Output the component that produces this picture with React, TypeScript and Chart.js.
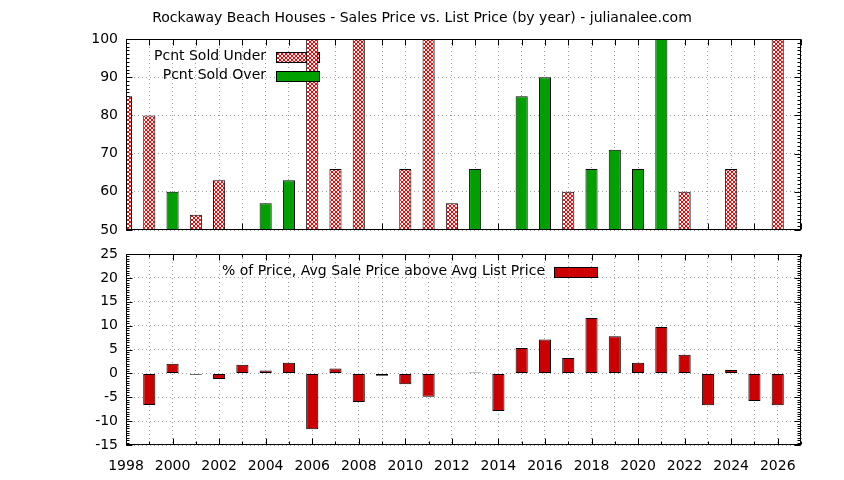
import React, { useEffect, useRef } from 'react';
import { Chart, registerables } from 'chart.js';

Chart.register(...registerables);

// ---------- data ----------
const TITLE = 'Rockaway Beach Houses - Sales Price vs. List Price (by year) - julianalee.com';
const years = [
  1998, 1999, 2000, 2001, 2002, 2003, 2004, 2005, 2006, 2007,
  2008, 2009, 2010, 2011, 2012, 2013, 2014, 2015, 2016, 2017,
  2018, 2019, 2020, 2021, 2022, 2023, 2024, 2025, 2026,
];
const pctSoldUnder = [
  85, 80, null, 54, 63, null, null, null, 100, 66,
  100, null, 66, 100, 57, null, null, null, null, 60,
  null, null, null, null, 60, null, 66, null, 100,
];
const pctSoldOver = [
  null, null, 60, null, null, null, 57, 63, null, null,
  null, null, null, null, null, 66, null, 85, 90, null,
  66, 71, 66, 100, null, null, null, null, null,
];
const pctSaleAboveList = [
  null, -6.6, 2.0, -0.3, -1.2, 1.8, 0.6, 2.2, -11.7, 1.0,
  -6.0, -0.5, -2.3, -4.9, -0.2, 0.2, -7.9, 5.3, 7.1, 3.2,
  11.6, 7.8, 2.2, 9.7, 3.9, -6.7, 0.7, -5.8, -6.7,
];
const LABEL_UNDER = 'Pcnt Sold Under';
const LABEL_OVER = 'Pcnt Sold Over';
const LABEL_PRICE = '% of Price, Avg Sale Price above Avg List Price';
const X_MIN = 1998;
const X_MAX = 2027;
const TOP_Y = { min: 50, max: 100, step: 10, minor: 1 };
const BOT_Y = { min: -15, max: 25, step: 5, minor: 0.5 };

// ---------- styles ----------
const FONT = 'DejaVu Sans';
const GREEN = '#00a000';
const DARK_RED = '#cc0000';
const HATCH_RED = '#ff0000';
const GRID = '#a0a0a0';

function makeHatch(): CanvasPattern | string {
  const c = document.createElement('canvas');
  c.width = 4;
  c.height = 4;
  const g = c.getContext('2d');
  if (!g) return HATCH_RED;
  g.fillStyle = '#ffffff';
  g.fillRect(0, 0, 4, 4);
  g.fillStyle = HATCH_RED;
  for (let i = 0; i < 4; i++) {
    g.fillRect(i, i, 1, 1);
    g.fillRect(3 - i, i, 1, 1);
  }
  return g.createPattern(c, 'repeat') || HATCH_RED;
}

const toPoints = (vals: (number | null)[]) => years.map((yr, i) => ({ x: yr, y: vals[i] }));

// frame + inward ticks (gnuplot look)
const gnuFrame = {
  id: 'gnuFrame',
  beforeDatasetsDraw(chart: any, _a: any, opts: any) {
    const { ctx, chartArea: a, scales } = chart;
    const xs = scales.x;
    const ys = scales.y;
    ctx.save();
    ctx.strokeStyle = '#000';
    ctx.lineWidth = 1;
    const line = (x1: number, y1: number, x2: number, y2: number) => {
      ctx.beginPath();
      ctx.moveTo(x1, y1);
      ctx.lineTo(x2, y2);
      ctx.stroke();
    };
    const L = Math.round(a.left) + 0.5;
    const R = Math.round(a.right) - 0.5;
    const T = Math.round(a.top) + 0.5;
    const B = Math.round(a.bottom) - 0.5;
    for (let v = ys.min; v <= ys.max + 1e-9; v += opts.yMinor) {
      const py = Math.round(ys.getPixelForValue(v)) + 0.5;
      line(L, py, L + opts.minorLen, py);
      line(R, py, R - opts.minorLen, py);
    }
    for (const t of ys.ticks) {
      const py = Math.round(ys.getPixelForValue(t.value)) + 0.5;
      line(L, py, L + opts.majorLen, py);
      line(R, py, R - opts.majorLen, py);
    }
    for (const t of xs.ticks) {
      const px = Math.round(xs.getPixelForValue(t.value)) + 0.5;
      const len = t.value % opts.xMajorEvery === 0 ? opts.majorLen : opts.minorLen;
      line(px, B, px, B - len);
      line(px, T, px, T + len);
    }
    ctx.restore();
  },
  afterDatasetsDraw(chart: any) {
    const { ctx, chartArea: a } = chart;
    ctx.save();
    ctx.strokeStyle = '#000';
    ctx.lineWidth = 1;
    const L = Math.round(a.left) + 0.5;
    const T = Math.round(a.top) + 0.5;
    ctx.strokeRect(L, T, Math.round(a.right) - 1 - Math.round(a.left), Math.round(a.bottom) - 1 - Math.round(a.top));
    ctx.restore();
  },
};

// key drawn inside the plot, text then sample box (gnuplot style)
const gnuKey = {
  id: 'gnuKey',
  beforeDatasetDraw(chart: any, args: any, opts: any) {
    const idx = args.index;
    const row = (opts.rows || []).indexOf(idx);
    if (row < 0) return;
    const ds = chart.data.datasets[idx];
    const { ctx, chartArea: a } = chart;
    const cy = a.top + opts.top + row * opts.rowStep;
    ctx.save();
    ctx.font = `14px "${FONT}"`;
    ctx.fillStyle = '#000';
    ctx.textAlign = 'right';
    ctx.textBaseline = 'middle';
    ctx.fillText(ds.label, a.left + opts.textRight, cy);
    const bx = Math.round(a.left + opts.boxLeft) + 0.5;
    const by = Math.round(cy - opts.boxH / 2) + 0.5;
    ctx.fillStyle = ds.backgroundColor;
    ctx.fillRect(bx, by, opts.boxW, opts.boxH);
    ctx.strokeStyle = '#000';
    ctx.lineWidth = 1;
    ctx.strokeRect(bx, by, opts.boxW, opts.boxH);
    ctx.restore();
  },
};

const tickFont = { family: FONT, size: 14 };

function xScale(showLabels: boolean, height: number) {
  return {
    type: 'linear',
    min: X_MIN,
    max: X_MAX,
    offset: false,
    grid: { offset: false, color: GRID, lineWidth: 1, drawTicks: false },
    border: { display: false, dash: [1, 3] },
    ticks: {
      display: showLabels,
      stepSize: 1,
      autoSkip: false,
      maxRotation: 0,
      padding: 13,
      color: '#000',
      font: tickFont,
      callback: (v: any) => (Number(v) % 2 === 0 ? String(v) : ''),
    },
    afterFit: (s: any) => {
      s.height = height;
      s.paddingLeft = 0;
      s.paddingRight = 0;
    },
  };
}

function yScale(r: { min: number; max: number; step: number }) {
  return {
    min: r.min,
    max: r.max,
    grid: { color: GRID, lineWidth: 1, drawTicks: false },
    border: { display: false, dash: [1, 3] },
    ticks: { stepSize: r.step, padding: 8, color: '#000', font: tickFont },
    afterFit: (s: any) => {
      s.width = 126;
      s.paddingTop = 0;
      s.paddingBottom = 0;
    },
  };
}

const rightPad = {
  position: 'right',
  display: true,
  grid: { display: false, drawTicks: false },
  border: { display: false },
  ticks: { display: false },
  afterFit: (s: any) => {
    s.width = 43;
    s.paddingTop = 0;
    s.paddingBottom = 0;
  },
};

const barCommon = {
  borderColor: '#000',
  borderWidth: 1,
  borderSkipped: false,
  grouped: false,
  barPercentage: 0.52,
  categoryPercentage: 1,
  clip: 0,
};

export default function App() {
  const topRef = useRef<HTMLCanvasElement>(null);
  const botRef = useRef<HTMLCanvasElement>(null);

  useEffect(() => {
    if (!topRef.current || !botRef.current) return;
    const hatch = makeHatch();

    const top = new Chart(topRef.current, {
      type: 'bar',
      data: {
        datasets: [
          { ...barCommon, label: LABEL_UNDER, data: toPoints(pctSoldUnder), backgroundColor: hatch, order: 1 },
          { ...barCommon, label: LABEL_OVER, data: toPoints(pctSoldOver), backgroundColor: GREEN, order: 0 },
        ],
      } as any,
      options: {
        animation: false,
        responsive: false,
        devicePixelRatio: 1,
        layout: { padding: 0 },
        events: [],
        plugins: {
          legend: { display: false },
          tooltip: { enabled: false },
          title: {
            display: true,
            text: TITLE,
            color: '#000',
            font: { family: FONT, size: 14, weight: 'normal' },
            padding: { top: 10, bottom: 12.2 },
          },
          gnuFrame: { yMinor: TOP_Y.minor, majorLen: 6, minorLen: 3, xMajorEvery: 1 },
          gnuKey: { rows: [0, 1], top: 17.7, rowStep: 19, textRight: 140, boxLeft: 150, boxW: 43, boxH: 10 },
        },
        scales: {
          x: xScale(false, 10),
          y: yScale(TOP_Y),
          yR: rightPad,
        },
      } as any,
      plugins: [gnuFrame, gnuKey],
    });

    const bot = new Chart(botRef.current, {
      type: 'bar',
      data: {
        datasets: [
          { ...barCommon, label: LABEL_PRICE, data: toPoints(pctSaleAboveList), backgroundColor: DARK_RED },
        ],
      } as any,
      options: {
        animation: false,
        responsive: false,
        devicePixelRatio: 1,
        layout: { padding: { top: 14 } },
        events: [],
        plugins: {
          legend: { display: false },
          tooltip: { enabled: false },
          gnuFrame: { yMinor: BOT_Y.minor, majorLen: 6, minorLen: 3, xMajorEvery: 2 },
          gnuKey: { rows: [0], top: 17.5, rowStep: 19, textRight: 419, boxLeft: 428, boxW: 43, boxH: 10 },
        },
        scales: {
          x: xScale(true, 35),
          y: yScale(BOT_Y),
          yR: rightPad,
        },
      } as any,
      plugins: [gnuFrame, gnuKey],
    });

    return () => {
      top.destroy();
      bot.destroy();
    };
  }, []);

  return (
    <div style={{ position: 'absolute', left: 0, top: 0, width: 844, height: 480, background: '#fff' }}>
      <canvas ref={topRef} width={844} height={240} style={{ position: 'absolute', left: 0, top: 0 }} />
      <canvas ref={botRef} width={844} height={240} style={{ position: 'absolute', left: 0, top: 240 }} />
    </div>
  );
}
